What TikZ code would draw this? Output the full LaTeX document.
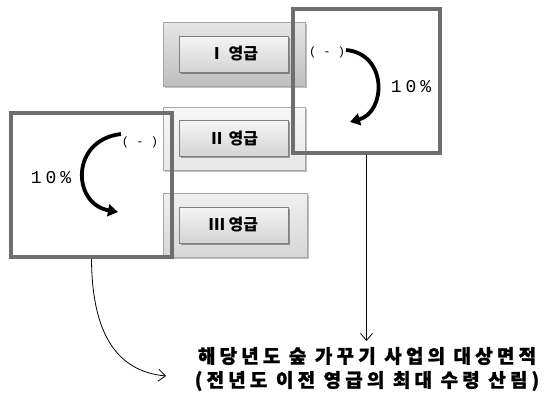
\documentclass[tikz,border=0pt]{standalone}
\usepackage{fontspec}
\newfontfamily\kr{Noto Sans CJK KR}
\newfontfamily\krwide{Noto Sans CJK KR}[LetterSpace=22, BoldFeatures={FakeBold=1.2}]
\newfontfamily\mono{Liberation Mono}
\newfontfamily\monowide{Liberation Mono}[LetterSpace=22]
\usetikzlibrary{arrows.meta,shadows}
\definecolor{framegray}{HTML}{6E6E6E}
\begin{document}
\begin{tikzpicture}[x=1pt,y=-1pt,
  outerbox/.style={draw=black!35, minimum width=142pt, minimum height=64pt, inner sep=0pt,
    drop shadow={shadow xshift=1.5pt, shadow yshift=-1.5pt, opacity=0.25, fill=black}},
  innerbtn/.style={draw=black!50, top color=black!4, bottom color=black!17, minimum width=109pt,
    minimum height=36pt, inner sep=0pt, font=\kr\bfseries\fontsize{16}{18}\selectfont,
    drop shadow={shadow xshift=1.5pt, shadow yshift=-1.5pt, opacity=0.35, fill=black}},
  frame/.style={draw=framegray, line width=4pt, inner sep=0pt},
  monotext/.style={font=\mono\fontsize{#1}{#1}\selectfont, inner sep=0pt},
  pcttext/.style={font=\monowide\fontsize{18}{18}\selectfont, inner sep=0pt},
  turnarrow/.style={line width=3.8pt, -{Triangle[length=10pt,width=12pt]}},
  conn/.style={line width=0.8pt, -{Straight Barb[length=7pt,width=12pt]}}]
\useasboundingbox (0,0) rectangle (545,394);
% shaded boxes
\node[outerbox, top color=black!10, bottom color=black!25] (b1) at (234,54) {};
\node[outerbox, top color=black!3, bottom color=black!9, minimum height=63pt] (b2) at (234,138.5) {};
\node[outerbox, top color=black!6, bottom color=black!16, minimum width=144pt] (b3) at (235,225) {};
\node[innerbtn] (i1) at (233.5,54) {Ⅰ 영급};
\node[innerbtn] (i2) at (233.5,138.5) {Ⅱ 영급};
\node[innerbtn] (i3) at (233.5,225) {Ⅲ 영급};
% frames
\node[frame, minimum width=147pt, minimum height=144pt] (rframe) at (366.5,81) {};
\node[frame, minimum width=161pt, minimum height=144pt] (lframe) at (91.5,185) {};
% right frame content
\node[monotext=12] (rminus) at (327,52) {( - )};
\node[pcttext] (rpct) at (411,87) {10\%};
\draw[turnarrow] (346,50) .. controls (388,54) and (386,112) .. (350,122);
% left frame content
\node[monotext=12] (lminus) at (140,142) {( - )};
\node[pcttext] (lpct) at (51,178) {10\%};
\draw[turnarrow] (121,134) .. controls (70,140) and (72,204) .. (118,212);
% target text
\node[font=\krwide\bfseries\fontsize{19}{24}\selectfont, align=center, inner sep=0pt] (target) at (367,369)
  {해당년도 숲 가꾸기 사업의 대상면적\\(전년도 이전 영급의 최대 수령 산림)};
\coordinate (lend) at (166,376);
\draw[conn] (rframe.south) -- (rframe.south |- 0,341);
\draw[conn] (lframe.south) .. controls (92,345) and (125,372) .. (lend);
\end{tikzpicture}
\end{document}
